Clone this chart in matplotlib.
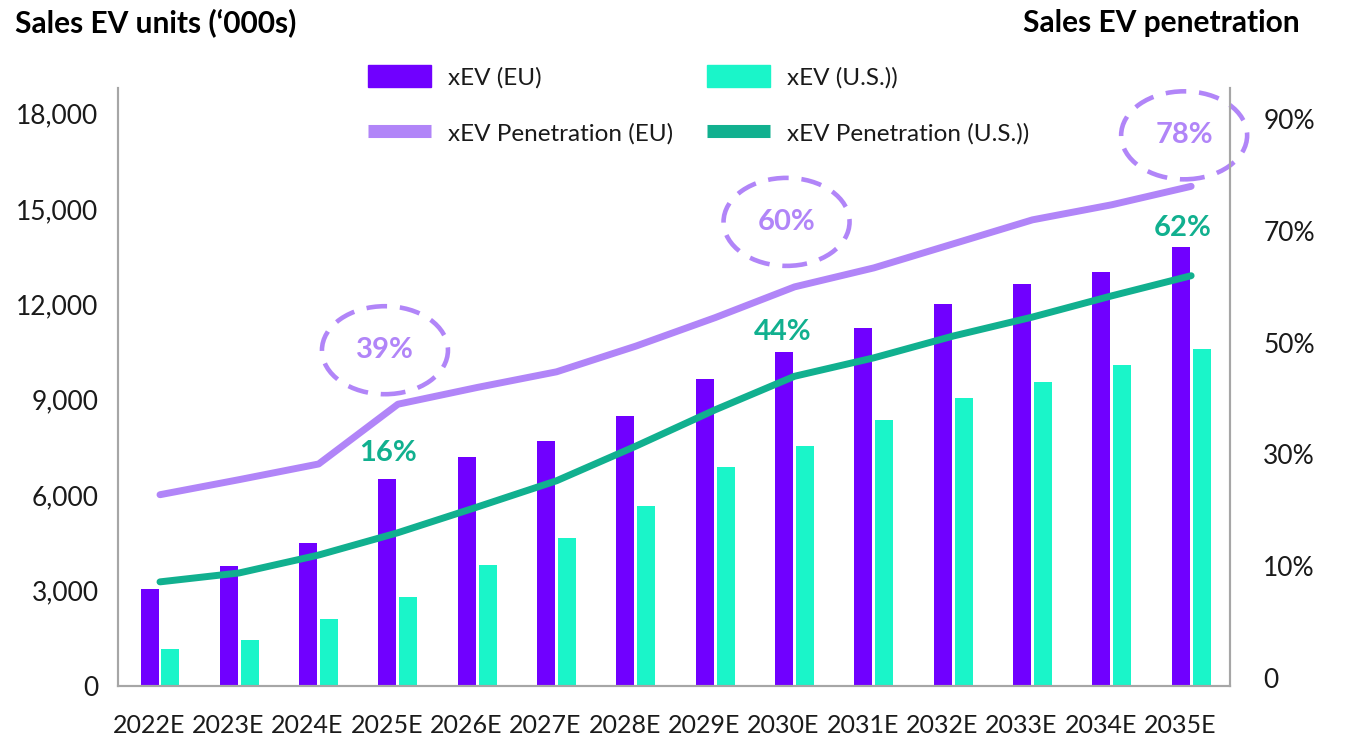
import numpy as np
import matplotlib
matplotlib.use("Agg")
import matplotlib.pyplot as plt
import matplotlib.transforms as mtransforms
from matplotlib.patches import Ellipse, Patch
from matplotlib.lines import Line2D

plt.rcParams["font.family"] = ["Lato", "DejaVu Sans"]

years = ["2022E", "2023E", "2024E", "2025E", "2026E", "2027E", "2028E",
         "2029E", "2030E", "2031E", "2032E", "2033E", "2034E", "2035E"]
ev_eu = [3050, 3780, 4500, 6500, 7200, 7700, 8500, 9650, 10500, 11250, 12000, 12650, 13000, 13800]
ev_us = [1150, 1450, 2100, 2800, 3800, 4650, 5650, 6900, 7550, 8350, 9050, 9550, 10100, 10600]
pen_eu = [22.8, 25.5, 28.3, 39, 42, 44.8, 49.4, 54.5, 60, 63.4, 67.7, 72, 74.7, 78]
pen_us = [8.6, 9.4, 12, 16, 20.6, 25.3, 31.5, 38, 44, 47.3, 51.2, 54.6, 58.4, 62]

# labelled points: (year index, offset of the label centre in px)
eu_callouts = [(3, -13, 54), (8, -8, 65), (13, -7, 51)]
us_callouts = [(3, -10, 80), (8, -12, 44), (13, -8, 48)]

right_ticks = [0, 10, 30, 50, 70, 90]
right_labels = ["0", "10%", "30%", "50%", "70%", "90%"]

C_EU = "#7000ff"
C_US = "#1af5c9"
C_EU_LINE = "#b185f8"
C_US_LINE = "#11b08f"
GREY = "#a6a6a6"
INK = "#1a1a1a"

fig = plt.figure(figsize=(13.45, 7.37), dpi=100)
ax = fig.add_axes([0.0877, 0.0692, 0.8268, 0.8114])
ax2 = ax.twinx()

x = np.arange(len(years))
w = 0.227
ax.bar(x - 0.132, ev_eu, w, color=C_EU, zorder=2)
ax.bar(x + 0.132, ev_us, w, color=C_US, zorder=2)

ax.set_xlim(-0.53, 13.49)
ax.set_ylim(0, 18800)
ax.set_yticks(np.arange(0, 18001, 3000))
ax.set_yticklabels([f"{v:,}" for v in range(0, 18001, 3000)])
ax.set_xticks(x - 0.14)
ax.set_xticklabels(years)

# right axis labels are evenly spaced although the steps are not (0,10,30,...)
lv = [-10, 0, 10, 30, 50, 70, 90, 110]
ps = [-1, 0, 1, 2, 3, 4, 5, 6]
ax2.set_yscale("function", functions=(lambda v: np.interp(v, lv, ps),
                                      lambda p: np.interp(p, ps, lv)))
ax2.set_ylim(-0.72, 95.6)
ax2.set_yticks(right_ticks)
ax2.set_yticklabels(right_labels)

ax2.plot(x, pen_eu, color=C_EU_LINE, lw=5, solid_capstyle="round", solid_joinstyle="round")
ax2.plot(x, pen_us, color=C_US_LINE, lw=5, solid_capstyle="round", solid_joinstyle="round")

for a in (ax, ax2):
    a.spines["top"].set_visible(False)
    for s in ("left", "right", "bottom"):
        a.spines[s].set_color(GREY)
        a.spines[s].set_linewidth(1.5)
    a.tick_params(length=0, labelsize=19, labelcolor=INK)
ax.tick_params(axis="y", pad=14)
ax.tick_params(axis="x", pad=20, labelsize=18)
ax2.tick_params(axis="y", pad=24)

# dashed rings around the EU values
for i, dx, dy in eu_callouts:
    tr = fig.dpi_scale_trans + mtransforms.ScaledTranslation(x[i], pen_eu[i], ax2.transData)
    ring = Ellipse((dx / 100, dy / 100), 1.26, 0.88, transform=tr, fill=False,
                   edgecolor=C_EU_LINE, lw=3.3, linestyle=(0, (4.5, 2.8)), clip_on=False)
    ax2.add_patch(ring)
    ax2.annotate(f"{pen_eu[i]:g}%", (x[i], pen_eu[i]), xytext=(dx * 0.72, dy * 0.72),
                 textcoords="offset points", ha="center", va="center",
                 fontsize=21, fontweight="bold", color=C_EU_LINE, annotation_clip=False)

for i, dx, dy in us_callouts:
    ax2.annotate(f"{pen_us[i]:g}%", (x[i], pen_us[i]), xytext=(dx * 0.72, dy * 0.72),
                 textcoords="offset points", ha="center", va="center",
                 fontsize=21, fontweight="bold", color=C_US_LINE, annotation_clip=False)

fig.text(15 / 1345, 1 - 23 / 737, "Sales EV units (\u2018000s)", fontsize=21.5,
         fontweight="bold", ha="left", va="center", color="black")
fig.text(1300 / 1345, 1 - 23 / 737, "Sales EV penetration", fontsize=21.5,
         fontweight="bold", ha="right", va="center", color="black")

handles = [Patch(color=C_EU), Line2D([], [], color=C_EU_LINE, lw=9.4, solid_capstyle="butt"),
           Patch(color=C_US), Line2D([], [], color=C_US_LINE, lw=9.4, solid_capstyle="butt")]
labels = ["xEV (EU)", "xEV Penetration (EU)", "xEV (U.S.))", "xEV Penetration (U.S.))"]
leg = fig.legend(handles, labels, ncol=2, loc="upper left",
                 bbox_to_anchor=(368 / 1345, 1 - 65 / 737), frameon=False,
                 handlelength=2.6, handleheight=1.0, handletextpad=0.68,
                 columnspacing=1.4, labelspacing=1.35, borderpad=0, borderaxespad=0,
                 prop={"size": 17.5})
for t in leg.get_texts():
    t.set_color(INK)

fig.savefig("out.png", dpi=100)
